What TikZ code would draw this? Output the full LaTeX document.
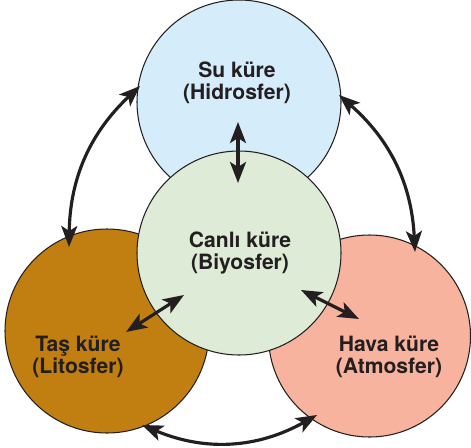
\documentclass[tikz,border=0pt]{standalone}
\usepackage{fontspec}
\setmainfont{TeX Gyre Heros}
\usetikzlibrary{arrows.meta}

\definecolor{suBlue}{RGB}{213,236,250}
\definecolor{canliGreen}{RGB}{221,235,215}
\definecolor{tasBrown}{RGB}{193,127,18}
\definecolor{havaPink}{RGB}{247,179,157}
\definecolor{inkGray}{RGB}{35,31,32}

\tikzset{
  sphere/.style={circle, draw=inkGray, line width=0.6pt, minimum size=2*\R cm, inner sep=0pt},
  sphtext/.style={align=center, text=inkGray, font=\fontsize{12}{12.2}\selectfont\bfseries},
  link/.style={{Stealth[length=0.42cm,width=0.32cm,inset=0.1cm]}-{Stealth[length=0.42cm,width=0.32cm,inset=0.1cm]}, line width=1.8pt, draw=inkGray}
}

\begin{document}
\begin{tikzpicture}
\def \R {2.04};
\useasboundingbox (0,0) rectangle (9.42,8.94);

%les sphères
\node[sphere, fill=suBlue] (su) at (4.78,6.90) {};% Hidrosfer
\node[sphere, fill=tasBrown] (tas) at (2.14,2.32) {};% Litosfer
\node[sphere, fill=havaPink, minimum size=4.04cm] (hava) at (7.39,2.22) {};% Atmosfer
\node[sphere, fill=canliGreen] (canli) at (4.78,3.88) {};% Biyosfer

%les textes
\node[sphtext] (su-txt) at (4.74,7.28) {Su küre\\(Hidrosfer)};
\node[sphtext] (canli-txt) at (4.80,3.88) {Canlı küre\\(Biyosfer)};
\node[sphtext] (tas-txt) at (1.56,1.80) {Taş küre\\(Litosfer)};
\node[sphtext] (hava-txt) at (7.78,1.80) {Hava küre\\(Atmosfer)};

%les bouts des flèches
\coordinate (su-b) at (4.76,6.50);
\coordinate (canli-t) at (4.76,5.28);
\coordinate (canli-l) at (3.68,3.04);
\coordinate (tas-r) at (2.52,2.30);
\coordinate (canli-r) at (6.02,3.14);
\coordinate (hava-l) at (7.18,2.56);
\coordinate (su-l) at (2.80,7.22);
\coordinate (tas-t) at (1.38,4.00);
\coordinate (su-r) at (6.78,7.04);
\coordinate (hava-t) at (8.30,3.90);
\coordinate (tas-b) at (2.84,0.44);
\coordinate (hava-b) at (6.34,0.64);

%les flèches
\draw[link] (su-b) -- (canli-t);
\draw[link] (canli-l) -- (tas-r);
\draw[link] (canli-r) -- (hava-l);
\draw[link] (su-l) to[bend right=23] (tas-t);
\draw[link] (su-r) to[bend left=23] (hava-t);
\draw[link] (tas-b) to[bend right=26] (hava-b);

\end{tikzpicture}
\end{document}
